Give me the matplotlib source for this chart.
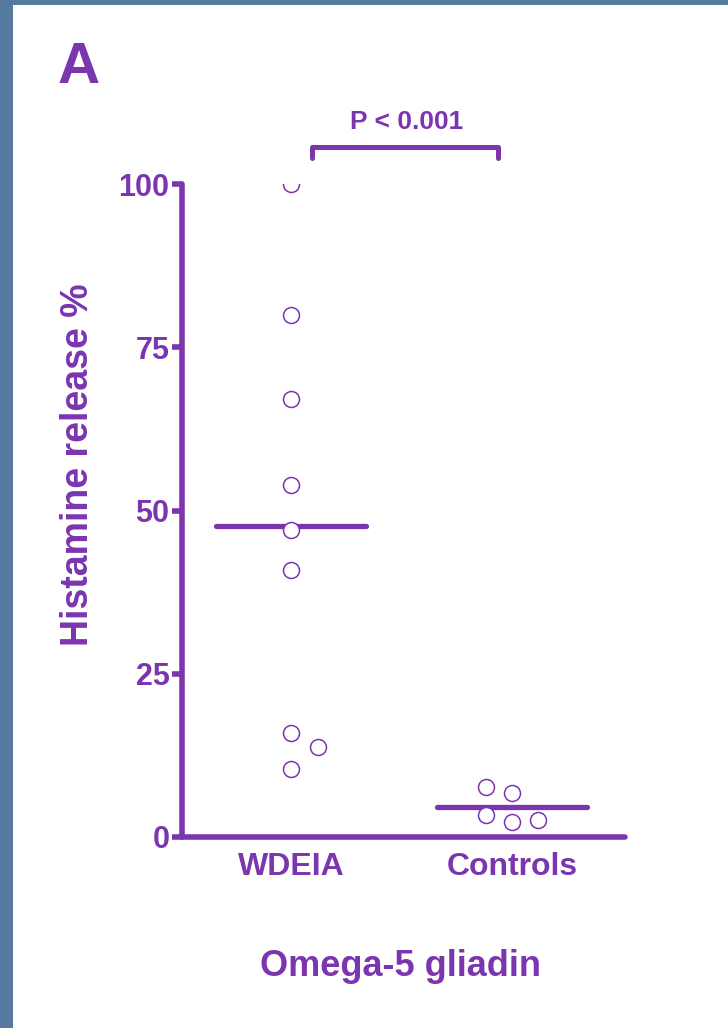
import numpy as np
import matplotlib.pyplot as plt

plt.rcParams['font.family'] = ['Liberation Sans', 'DejaVu Sans']
plt.rcParams['font.weight'] = 'bold'

PURPLE = '#7B35AF'
BLUE = '#56799F'

# Histamine release (%) per subject
groups = ['WDEIA', 'Controls']
wdeia = [100, 79.9, 67.1, 53.9, 47.0, 40.9, 15.9, 13.8, 10.4]
wdeia_jitter = [0, 0, 0, 0, 0, 0, 0, 0.12, 0]
controls = [7.7, 6.7, 3.4, 2.3, 2.6]
controls_jitter = [-0.118, 0, -0.118, 0, 0.118]
yticks = [0, 25, 50, 75, 100]
p_text = 'P < 0.001'

fig = plt.figure(figsize=(7.28, 10.28), dpi=100, facecolor=BLUE)
# white slide panel behind the plot
bg = fig.add_axes([13 / 728, 0, 1 - 13 / 728, 1 - 5 / 1028], zorder=-1)
bg.set_facecolor('white')
bg.set_xticks([])
bg.set_yticks([])
for s in bg.spines.values():
    s.set_visible(False)

ax = fig.add_axes([0.25, 0.1858, 0.6085, 0.6352], zorder=1)
ax.set_facecolor('none')

for i, (vals, jit) in enumerate([(wdeia, wdeia_jitter), (controls, controls_jitter)]):
    pos = i + 1
    xs = pos + np.array(jit)
    ax.plot(xs, vals, 'o', ms=11.5, mfc='white', mec=PURPLE, mew=1.1, zorder=4)
    m = np.mean(vals)
    ax.plot([pos - 0.34, pos + 0.34], [m, m], color=PURPLE, lw=3.8,
            solid_capstyle='round', zorder=3)

# significance bracket
ax.plot([1.095, 1.095, 1.937, 1.937], [104.0, 105.7, 105.7, 104.0], color=PURPLE,
        lw=3.6, solid_capstyle='round', solid_joinstyle='round', clip_on=False)

ax.set_xlim(0.507, 2.511)
ax.set_ylim(0, 100)
ax.set_xticks([1, 2])
ax.set_xticklabels(groups)
ax.set_yticks(yticks)

for s in ['top', 'right']:
    ax.spines[s].set_visible(False)
for s in ['left', 'bottom']:
    ax.spines[s].set_color(PURPLE)
    ax.spines[s].set_linewidth(4)
    ax.spines[s].set_capstyle('round')

ax.tick_params(axis='y', colors=PURPLE, length=7, width=4, pad=2, labelsize=22)
ax.tick_params(axis='x', colors=PURPLE, length=0, pad=11, labelsize=23)
for t in ax.get_xticklabels() + ax.get_yticklabels():
    t.set_fontweight('bold')

fig.text(78 / 728, 1 - 465 / 1028, 'Histamine release %', rotation=90, ha='center',
         va='center', fontsize=27, fontweight='bold', color=PURPLE)
fig.text(400 / 728, 1 - 966 / 1028, 'Omega-5 gliadin', ha='center', va='center',
         fontsize=26, fontweight='bold', color=PURPLE)
fig.text(407 / 728, 1 - 122 / 1028, p_text, ha='center', va='center',
         fontsize=19, fontweight='bold', color=PURPLE)
fig.text(79 / 728, 1 - 68 / 1028, 'A', ha='center', va='center',
         fontsize=42, fontweight='bold', color=PURPLE)

fig.savefig('out.png', dpi=100, facecolor=fig.get_facecolor())
